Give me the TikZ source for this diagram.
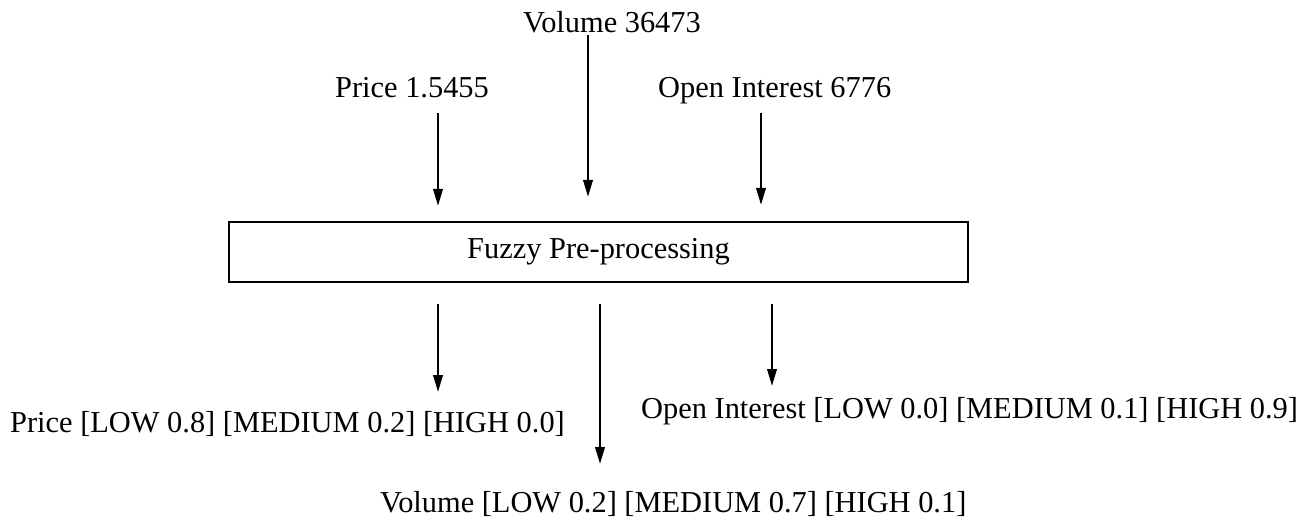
\documentclass[tikz,border=0pt]{standalone}
\usepackage{fontspec}
\setmainfont{Liberation Serif}
\usetikzlibrary{arrows.meta}
\begin{document}
\begin{tikzpicture}[x=1pt,y=-1pt,
  lbl/.style={anchor=base west,inner sep=0pt,font=\fontsize{30.4}{36}\selectfont},
  arr/.style={line width=2.2pt,-{Triangle[length=17pt,width=9.5pt]}},
  procbox/.style={draw,line width=2.2pt,minimum width=739pt,minimum height=60pt,inner sep=0pt,
    font=\fontsize{30.4}{36}\selectfont}]
\useasboundingbox (0,0) rectangle (1311,520);
\fill[white] (0,0) rectangle (1311,520);
% process box
\node[procbox] (box) at (598.5,252) {\raisebox{2pt}{Fuzzy Pre-processing}};
% input labels
\node[lbl] (pricein) at (335,97) {Price 1.5455};
\node[lbl] (volin) at (523,32) {Volume 36473};
\node[lbl] (oiin) at (658,97) {Open Interest 6776};
% output labels
\node[lbl] (priceout) at (10,432) {Price [LOW 0.8] [MEDIUM 0.2] [HIGH 0.0]};
\node[lbl] (oiout) at (641,418) {Open Interest [LOW 0.0] [MEDIUM 0.1] [HIGH 0.9]};
\node[lbl] (volout) at (380,512) {Volume [LOW 0.2] [MEDIUM 0.7] [HIGH 0.1]};
% arrow anchor points
\coordinate (pa) at (438,113);
\coordinate (va) at (588,35);
\coordinate (oa) at (761,113);
\coordinate (pb) at (438,392);
\coordinate (vb) at (600,464);
\coordinate (ob) at (772,386);
% input arrows
\draw[arr,shorten >=15pt] (pa) -- (pa |- box.north);
\draw[arr,shorten >=24pt] (va) -- (va |- box.north);
\draw[arr,shorten >=16pt] (oa) -- (oa |- box.north);
% output arrows
\draw[arr,shorten <=21pt] (pb |- box.south) -- (pb);
\draw[arr,shorten <=21pt] (vb |- box.south) -- (vb);
\draw[arr,shorten <=21pt] (ob |- box.south) -- (ob);
\end{tikzpicture}
\end{document}
